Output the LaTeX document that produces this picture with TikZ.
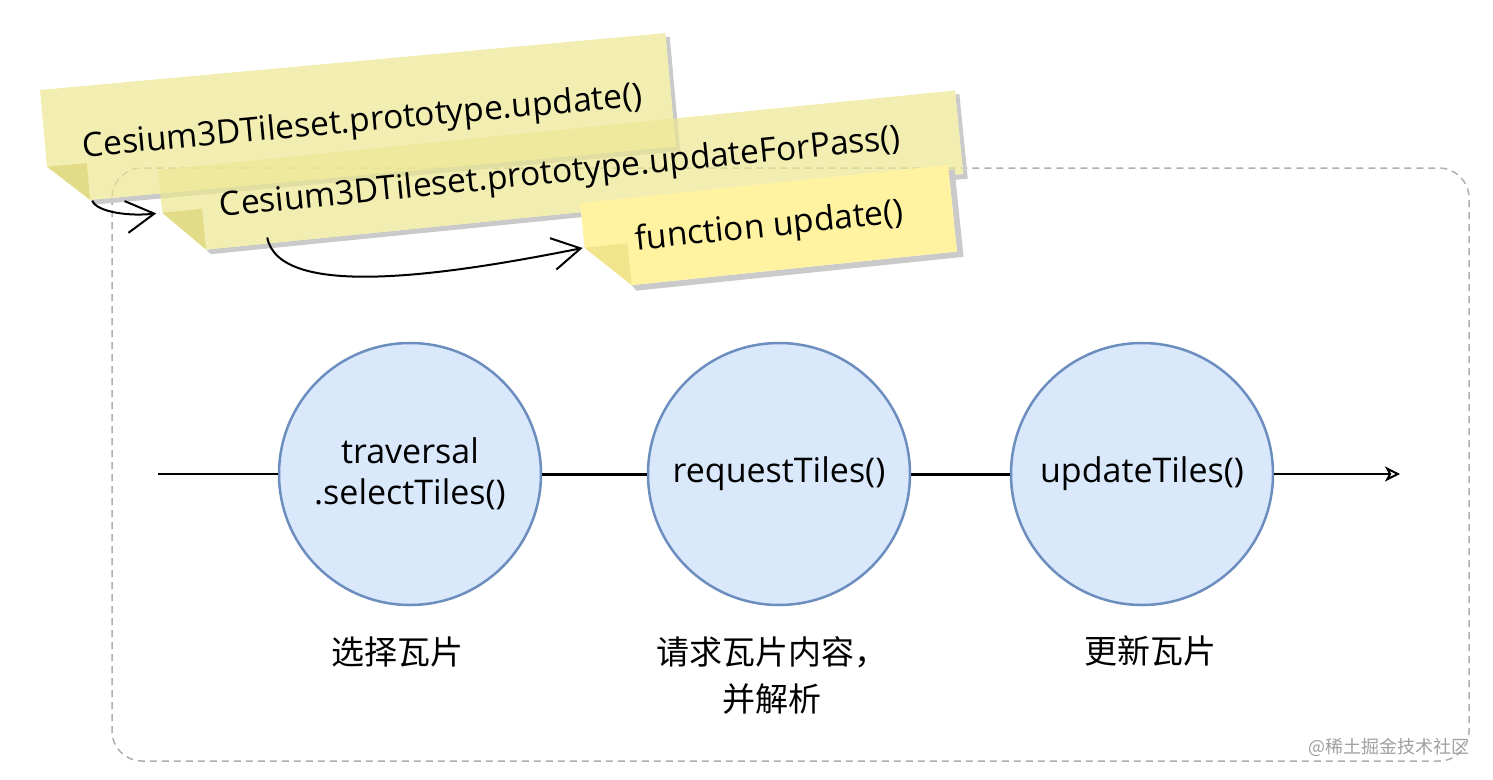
\documentclass[tikz,border=0pt]{standalone}
\usepackage{fontspec}
\setmainfont{Open Sans}
\newfontfamily\cjk{Noto Sans CJK SC}
\usetikzlibrary{arrows.meta}
\usetikzlibrary{positioning}

\definecolor{notepale}{RGB}{236,231,146}
\definecolor{notepalefold}{RGB}{220,212,118}
\definecolor{notebright}{RGB}{255,243,162}
\definecolor{notebrightfold}{RGB}{242,228,140}
\definecolor{noteshadow}{RGB}{202,202,202}
\definecolor{tilefill}{HTML}{DAE8FC}
\definecolor{tileline}{HTML}{6C8EBF}
\definecolor{framegray}{RGB}{175,175,175}

\tikzset{
  tile/.style={circle, draw=tileline, fill=tilefill, line width=2.5pt,
    minimum size=262pt, inner sep=0pt, align=center,
    font=\fontsize{34}{41}\selectfont},
  notetext/.style={transform shape, inner sep=0pt, font=\fontsize{33.5}{36}\selectfont},
  caption/.style={font=\cjk\fontsize{33}{47}\selectfont, align=center},
  callarrow/.style={line width=2pt, -{Straight Barb[length=28pt,width=32pt]}},
  flow/.style={line width=2pt},
}

\begin{document}
\begin{tikzpicture}[x=1pt, y=-1pt]
  \useasboundingbox (0,0) rectangle (1493,779);

  \draw [framegray, line width=1.5pt, dash pattern=on 7pt off 5pt, rounded corners=30pt]
    (112,168) rectangle (1469,761);

  % Cesium3DTileset.prototype.update()
  \begin{scope}[shift={(40,90)}, rotate=5.2]
    \fill [noteshadow] (628,4) -- (632,4) -- (632,119) -- (44,119) -- (40,114) -- (628,114) -- cycle;
    \fill [notepale, opacity=.7] (0,0) -- (628,0) -- (628,114) -- (40,114) -- (0,77) -- cycle;
    \fill [notepalefold, opacity=.7] (0,77) -- (40,77) -- (40,114) -- cycle;
    \node [notetext] (tsupdate) at (318,62) {Cesium3DTileset.prototype.update()};
    \coordinate (tsupdate-curl) at (42,115);
  \end{scope}

  % Cesium3DTileset.prototype.updateForPass()
  \begin{scope}[shift={(158,170)}, rotate=5.7]
    \fill [noteshadow] (801,4) -- (805,4) -- (805,89) -- (44,89) -- (40,84) -- (801,84) -- cycle;
    \fill [notepale, opacity=.7] (0,0) -- (801,0) -- (801,84) -- (40,84) -- (0,43) -- cycle;
    \fill [notepalefold, opacity=.7] (0,43) -- (40,43) -- (40,84) -- cycle;
    \node [notetext] (forpass) at (400,44) {Cesium3DTileset.prototype.updateForPass()};
    \coordinate (forpass-in) at (-6,43);
    \coordinate (forpass-out) at (102,78);
  \end{scope}

  % function update()
  \begin{scope}[shift={(580,203)}, rotate=5.9]
    \fill [noteshadow] (370,5) -- (376,5) -- (376,93) -- (47,93) -- (43,87) -- (370,87) -- cycle;
    \fill [notebright] (0,0) -- (370,0) -- (370,87) -- (43,87) -- (0,45) -- cycle;
    \fill [notebrightfold] (0,45) -- (43,45) -- (43,87) -- cycle;
    \node [notetext] (fnupdate) at (186,44) {function update()};
    \coordinate (fnupdate-in) at (-2,45);
  \end{scope}

  \draw [callarrow] (tsupdate-curl) .. controls +(5,12) and +(-25,3) .. (forpass-in);
  \draw [callarrow] (forpass-out) .. controls +(12,62) and +(-140,28) .. (fnupdate-in);

  % tiles pipeline
  \node [tile] (select) at (410,474) {traversal\\.selectTiles()};
  \node [tile] (request) at (779,474) {requestTiles()};
  \node [tile] (updtiles) at (1142,474) {updateTiles()};

  \coordinate (flowin) at (158,474);
  \coordinate (flowout) at (1400,474);
  \draw [flow] (flowin) -- (select);
  \draw [flow, line width=3pt] (select) -- (request);
  \draw [flow, line width=3pt] (request) -- (updtiles);
  \draw [flow, -{Stealth[open, length=15pt, width=15pt, inset=4pt]}] (updtiles) -- (flowout);

  \node [caption] (selectlbl) at (397,652) {选择瓦片};
  \node [caption] (requestlbl) at (772,675) {请求瓦片内容，\\并解析};
  \node [caption] (updtileslbl) at (1150,651) {更新瓦片};

  \node [font=\cjk\fontsize{18}{20}\selectfont, text=gray!75] (mark) at (1389,747) {@稀土掘金技术社区};
\end{tikzpicture}
\end{document}
